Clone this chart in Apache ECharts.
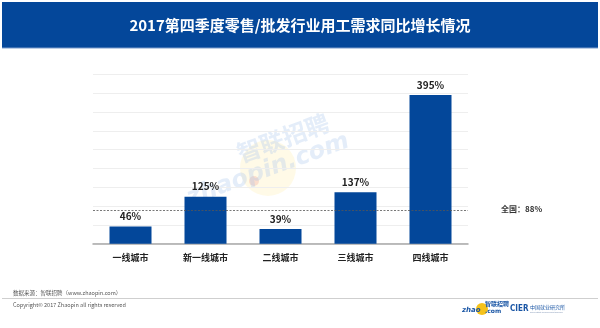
<!DOCTYPE html>
<html>
<head>
<meta charset="utf-8">
<script src="https://cdn.jsdelivr.net/npm/echarts@6/dist/echarts.min.js"></script>
<style>
html,body{margin:0;padding:0;background:#fff;}
#c{width:600px;height:328px;}
</style>
</head>
<body>
<div id="c"></div>
<script>
const titleText = '2017第四季度零售/批发行业用工需求同比增长情况';
const categories = ['一线城市', '新一线城市', '二线城市', '三线城市', '四线城市'];
const growthValues = [46, 125, 39, 137, 395];
const nationalValue = 88;
const nationalLabel = '全国：88%';
const sourceText = '数据来源：智联招聘（www.zhaopin.com）';
const copyrightText = 'Copyright© 2017 Zhaopin all rights reserved';

const FONT = '"Noto Sans CJK SC", "Noto Sans", sans-serif';
const BLUE = '#03479a';

const chart = echarts.init(document.getElementById('c'), null, {renderer: 'canvas'});
chart.setOption({
  animation: false,
  backgroundColor: '#ffffff',
  grid: {left: 93, right: 132, top: 74.3, bottom: 84.3, containLabel: false},
  xAxis: {
    type: 'category',
    data: categories,
    axisLine: {show: true, lineStyle: {color: '#a8a8a8', width: 1.5}},
    axisTick: {show: false},
    axisLabel: {color: '#222', fontSize: 9, fontWeight: 'bold', fontFamily: FONT, margin: 9}
  },
  yAxis: {
    type: 'value',
    min: 0, max: 450, interval: 50,
    axisLine: {show: false},
    axisTick: {show: false},
    axisLabel: {show: false},
    splitLine: {show: true, lineStyle: {color: '#eeeeee', width: 1}}
  },
  series: [{
    type: 'bar',
    data: growthValues,
    barWidth: '56%',
    itemStyle: {color: BLUE},
    label: {
      show: true, position: 'top', distance: 5,
      formatter: '{c}%', color: '#222', fontSize: 10, fontWeight: 'bold', fontFamily: FONT
    },
    markLine: {
      symbol: 'none',
      silent: true,
      label: {show: false},
      lineStyle: {color: '#555', type: [2, 1.5], width: 0.8},
      data: [{yAxis: nationalValue}]
    }
  }],
  graphic: [
    {type: 'rect', shape: {x: 2, y: 2, width: 596, height: 46}, style: {fill: '#04479a'}, z: 0},
    {type: 'rect', shape: {x: 2, y: 47.5, width: 596, height: 1}, style: {fill: '#7b9ccb'}, z: 0},
    {type: 'text', x: 300, y: 25.5, z: 2, style: {text: titleText, fill: '#ffffff', font: 'bold 15px ' + FONT, align: 'center', verticalAlign: 'middle'}},
    {type: 'text', x: 501, y: 208.5, z: 2, style: {text: nationalLabel, fill: '#333', font: 'bold 8px ' + FONT, align: 'left', verticalAlign: 'middle'}},
    // watermark
    {type: 'circle', shape: {cx: 268, cy: 168, r: 28}, style: {fill: 'rgba(255,236,170,0.28)'}, z: 0},
    {type: 'circle', shape: {cx: 254, cy: 181, r: 5}, style: {fill: 'rgba(240,150,140,0.28)'}, z: 0},
    {type: 'text', x: 283, y: 138, rotation: 0.35, z: 0, style: {text: '智联招聘', fill: 'rgba(170,200,235,0.32)', font: 'bold 24px ' + FONT, align: 'center', verticalAlign: 'middle'}},
    {type: 'text', x: 268, y: 170, rotation: 0.35, z: 0, style: {text: 'zhaopin.com', fill: 'rgba(170,200,235,0.32)', font: 'italic bold 24px "DejaVu Sans", sans-serif', align: 'center', verticalAlign: 'middle'}},
    // footer
    {type: 'text', x: 13, y: 292.5, z: 2, style: {text: sourceText, fill: '#555', font: '5.5px ' + FONT, align: 'left', verticalAlign: 'middle'}},
    {type: 'rect', shape: {x: 2, y: 298, width: 596, height: 1}, style: {fill: '#cfcfcf'}, z: 1},
    {type: 'text', x: 13, y: 305, z: 2, style: {text: copyrightText, fill: '#555', font: '5.5px ' + FONT, align: 'left', verticalAlign: 'middle'}},
    {type: 'circle', shape: {cx: 482, cy: 309, r: 6}, style: {fill: '#f5c21b'}, z: 2},
    {type: 'text', x: 462, y: 310, z: 3, style: {text: 'zhao', fill: '#1a56a5', font: 'bold italic 7px "DejaVu Sans", sans-serif', align: 'left', verticalAlign: 'middle'}},
    {type: 'text', x: 485, y: 304, z: 3, style: {text: '智联招聘', fill: '#1a56a5', font: 'bold 6px ' + FONT, align: 'left', verticalAlign: 'middle'}},
    {type: 'text', x: 485, y: 311, z: 3, style: {text: '.com', fill: '#1a56a5', font: 'bold 6px "DejaVu Sans", sans-serif', align: 'left', verticalAlign: 'middle'}},
    {type: 'text', x: 510, y: 309, z: 3, style: {text: 'CIER', fill: '#1a56a5', font: 'bold 8px "Liberation Sans Narrow", "DejaVu Sans Condensed", sans-serif', align: 'left', verticalAlign: 'middle'}},
    {type: 'text', x: 530, y: 307, z: 3, style: {text: '中国就业研究所', fill: '#1a56a5', font: '5px ' + FONT, align: 'left', verticalAlign: 'middle'}},
    {type: 'text', x: 530, y: 312.5, z: 3, style: {text: 'China Institute for Employment Research', fill: '#7a8fb0', font: '1.8px sans-serif', align: 'left', verticalAlign: 'middle'}}
  ]
});
</script>
</body>
</html>
